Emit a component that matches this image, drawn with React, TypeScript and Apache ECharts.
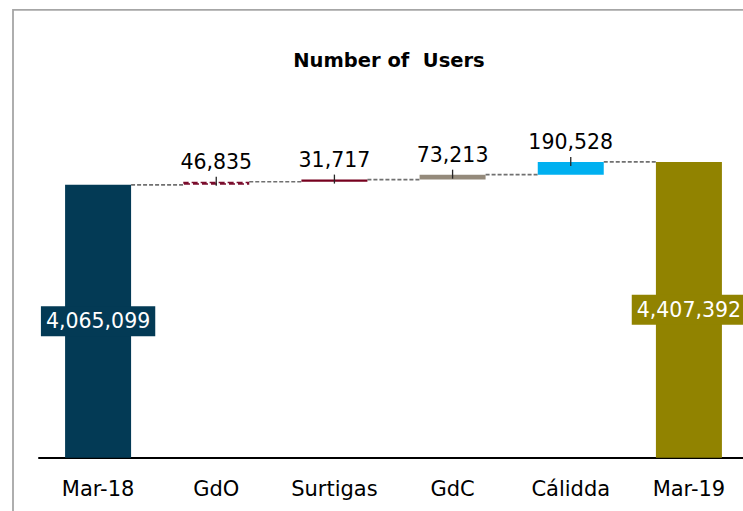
import React, { useEffect, useRef } from "react";
import * as echarts from "echarts";

const categories = ["Mar-18", "GdO", "Surtigas", "GdC", "Cálidda", "Mar-19"];
const startValue = 4065099;
const changes = [46835, 31717, 73213, 190528];
const endValue = 4407392;
const titleText = "Number of  Users";

const barColors = ["#033a55", "#ffffff", "#76001e", "#948a7b", "#00b0f0", "#918300"];
const FONT = "DejaVu Sans";

export default function App() {
  const ref = useRef<HTMLDivElement>(null);
  useEffect(() => {
    if (!ref.current) return;
    const chart = echarts.init(ref.current, undefined, { renderer: "svg" });

    const deltas = [startValue, ...changes, endValue];
    const bases: number[] = [0];
    const tops: number[] = [startValue];
    let run = startValue;
    changes.forEach((c) => {
      bases.push(run);
      run += c;
      tops.push(run);
    });
    bases.push(0);
    tops.push(endValue);

    const fmt = (p: any) => Number(p.value).toLocaleString("en-US");
    const last = deltas.length - 1;

    const deltaData = deltas.map((v, i) => {
      const isTotal = i === 0 || i === last;
      const item: any = {
        value: v,
        itemStyle: { color: barColors[i] },
        label: isTotal
          ? {
              show: true,
              position: "inside",
              formatter: fmt,
              color: "#ffffff",
              backgroundColor: barColors[i],
              padding: [5, 5, 4, 5],
              fontSize: 20.5,
              fontFamily: FONT,
            }
          : {
              show: true,
              position: "top",
              formatter: fmt,
              distance: 9,
              color: "#000000",
              fontSize: 20.5,
              fontFamily: FONT,
            },
      };
      if (i === 1) {
        item.itemStyle = {
          color: "#ffffff",
          borderColor: "#7a0c2c",
          borderWidth: 1.5,
          borderType: [6, 3],
        };
      }
      return item;
    });

    const connectorData = tops.slice(0, last).map((t, i) => [i, t]);
    const tickData = tops.slice(1, last).map((t, i) => [i + 1, t]);
    const half = 33;

    chart.setOption({
      animation: false,
      graphic: [
        {
          type: "rect",
          shape: { x: 13, y: 9.8, width: 800, height: 600 },
          style: { fill: "none", stroke: "#a6a6a6", lineWidth: 1.8 },
          silent: true,
        },
        {
          type: "text",
          x: 389,
          y: 60.5,
          style: {
            text: titleText,
            fontFamily: FONT,
            fontWeight: "bold",
            fontSize: 19.5,
            fill: "#000000",
            textAlign: "center",
            textVerticalAlign: "middle",
          },
          silent: true,
        },
      ],
      grid: { left: 39, top: 122.1, width: 709, height: 335.6, containLabel: false },
      xAxis: {
        type: "category",
        data: categories,
        axisLine: { show: true, lineStyle: { color: "#000000", width: 2 } },
        axisTick: { show: false },
        axisLabel: { color: "#000000", fontSize: 21, fontFamily: FONT, margin: 21 },
        splitLine: { show: false },
      },
      yAxis: {
        type: "value",
        min: 0,
        max: 5000000,
        show: false,
        splitLine: { show: false },
      },
      series: [
        {
          type: "bar",
          name: "base",
          stack: "wf",
          barWidth: 66,
          data: bases,
          itemStyle: { color: "transparent" },
          silent: true,
        },
        {
          type: "bar",
          name: "delta",
          stack: "wf",
          barWidth: 66,
          data: deltaData,
          silent: true,
          z: 2,
        },
        {
          type: "custom",
          name: "connectors",
          silent: true,
          z: 1,
          data: connectorData,
          renderItem: (params: any, api: any) => {
            const i = api.value(0);
            const level = api.value(1);
            const p0 = api.coord([i, level]);
            const p1 = api.coord([i + 1, level]);
            return {
              type: "line",
              shape: { x1: p0[0] + half, y1: p0[1], x2: p1[0] - half, y2: p1[1] },
              style: { stroke: "#707070", lineWidth: 1.6, lineDash: [4, 2] },
            };
          },
        },
        {
          type: "custom",
          name: "ticks",
          silent: true,
          z: 5,
          data: tickData,
          renderItem: (params: any, api: any) => {
            const p = api.coord([api.value(0), api.value(1)]);
            return {
              type: "line",
              shape: { x1: p[0], y1: p[1] - 5, x2: p[0], y2: p[1] + 4 },
              style: { stroke: "#262626", lineWidth: 1.3 },
            };
          },
        },
      ],
    });
    return () => chart.dispose();
  }, []);
  return (
    <div
      style={{
        position: "absolute",
        left: 0,
        top: 0,
        width: 743,
        height: 511,
        overflow: "hidden",
        background: "#ffffff",
      }}
    >
      <div ref={ref} style={{ width: 760, height: 511 }} />
    </div>
  );
}
